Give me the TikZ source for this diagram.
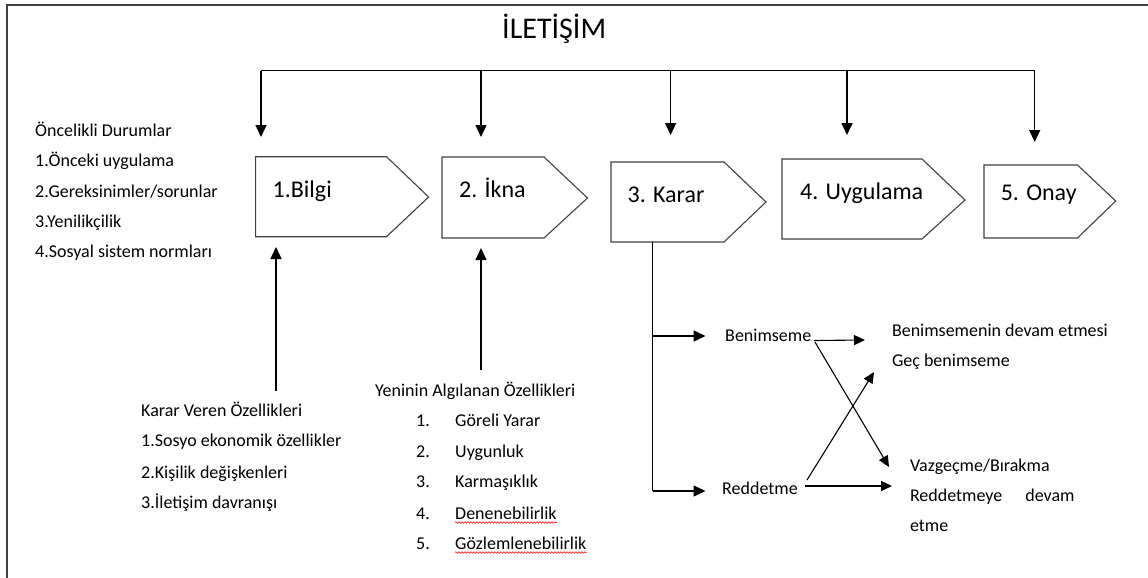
\documentclass[tikz,border=0pt]{standalone}
\usepackage{fontspec}
\setmainfont{Carlito}
\usetikzlibrary{arrows.meta,decorations.pathmorphing}
\begin{document}
\begin{tikzpicture}[x=1pt,y=-1pt,
  arr/.style={line width=1.4pt,-{Triangle[length=12pt,width=11pt]}},
  thinarr/.style={line width=1.1pt,-{Triangle[length=11pt,width=10pt]}},
  plain/.style={line width=1.4pt},
  box/.style={draw=black!75,line width=1.1pt},
  lbl/.style={anchor=base west,inner sep=0pt,font=\fontsize{24}{28}\selectfont},
  txt/.style={anchor=base west,inner sep=0pt,font=\fontsize{18}{21}\selectfont},
  wavy/.style={red,line width=0.6pt,decorate,decoration={snake,segment length=3pt,amplitude=0.8pt}}]
\useasboundingbox (0,0) rectangle (1148,578);
\clip (0,0) rectangle (1148,578);
% frame
\draw[black!75,line width=1.8pt] (7,5) rectangle (1200,650);
% title
\node[anchor=base west,inner sep=0pt,font=\fontsize{30}{34}\selectfont] (title) at (502,38.5) {İLETİŞİM};
% boxes
\draw[box] (255.6,156.7) -- (386.5,156.7) -- (428.6,197) -- (386.5,236.7) -- (255.6,236.7) -- cycle;
\draw[box] (442,157) -- (544,157) -- (587.5,198) -- (544,238) -- (442,238) -- cycle;
\draw[box] (611,162) -- (724,162) -- (766,202) -- (724,242) -- (611,242) -- cycle;
\draw[box] (782,159) -- (922,159) -- (965,200) -- (922,239) -- (782,239) -- cycle;
\draw[box] (984,165) -- (1077.5,165) -- (1115.7,201) -- (1077.5,238) -- (984,238) -- cycle;
\node[lbl] (b1) at (272.5,197) {1.Bilgi};
\node[lbl] (b2) at (459,197) {2. İkna};
\node[lbl] (b3) at (627.5,202) {3. Karar};
\node[lbl] (b4) at (800,199) {4. Uygulama};
\node[lbl] (b5) at (1000.6,200) {5. Onay};
% top distribution
\coordinate (tA) at (261,70.7);
\coordinate (tB) at (481,70.7);
\coordinate (tC) at (670.6,70.7);
\coordinate (tD) at (847,70.7);
\coordinate (tE) at (1034.7,70.7);
\coordinate (eA) at (261,137);
\coordinate (eB) at (481,137);
\coordinate (eC) at (670.6,135);
\coordinate (eD) at (847,135);
\coordinate (eE) at (1034.7,142);
\draw[plain] (tA) -- (tE);
\draw[arr] (tA) -- (eA);
\draw[arr] (tB) -- (eB);
\draw[arr] (tC) -- (eC);
\draw[arr] (tD) -- (eD);
\draw[arr] (tE) -- (eE);
% left list
\node[txt] (p0) at (35,136) {Öncelikli Durumlar};
\node[txt] (p1) at (35,166.5) {1.Önceki uygulama};
\node[txt] (p2) at (35,197) {2.Gereksinimler/sorunlar};
\node[txt] (p3) at (35,227) {3.Yenilikçilik};
\node[txt] (p4) at (35,257) {4.Sosyal sistem normları};
% up arrows
\coordinate (uA0) at (276,391);
\coordinate (uA1) at (276,247);
\coordinate (uB0) at (481,370);
\coordinate (uB1) at (481,248);
\draw[arr] (uA0) -- (uA1);
\draw[arr] (uB0) -- (uB1);
% decision maker list
\node[txt] (k0) at (141,416) {Karar Veren Özellikleri};
\node[txt] (k1) at (141,446) {1.Sosyo ekonomik özellikler};
\node[txt] (k2) at (141,478) {2.Kişilik değişkenleri};
\node[txt] (k3) at (141,508) {3.İletişim davranışı};
% perceived attributes
\node[txt] (y0) at (375,396) {Yeninin Algılanan Özellikleri};
\node[txt] (n1) at (416,426) {1.};
\node[txt] (n2) at (416,457) {2.};
\node[txt] (n3) at (416,487) {3.};
\node[txt] (n4) at (416,519) {4.};
\node[txt] (n5) at (416,549) {5.};
\node[txt] (y1) at (455,426) {Göreli Yarar};
\node[txt] (y2) at (455,457) {Uygunluk};
\node[txt] (y3) at (455,487) {Karmaşıklık};
\node[txt] (y4) at (455,519) {Denenebilirlik};
\node[txt] (y5) at (455,549) {Gözlemlenebilirlik};
\draw[wavy] (455,522.5) -- (y4.base east |- 0,522.5);
\draw[wavy] (455,552.5) -- (y5.base east |- 0,552.5);
% decision tree
\coordinate (kt) at (652.6,242);
\coordinate (kb) at (652.6,336);
\coordinate (kr) at (652.6,491);
\coordinate (kbe) at (705.5,336);
\coordinate (kre) at (705.5,491);
\draw[plain] (kt) -- (kr);
\draw[arr] (kb) -- (kbe);
\draw[arr] (kr) -- (kre);
\node[txt] (ben) at (725,341.7) {Benimseme};
\node[txt] (red) at (722,494) {Reddetme};
\node[txt] (o1) at (891.8,336) {Benimsemenin devam etmesi};
\node[txt] (o2) at (891.8,366) {Geç benimseme};
\node[txt] (o3) at (909.8,471) {Vazgeçme/Bırakma};
\node[txt] (o4) at (909.8,501) {Reddetmeye\hspace{23pt}devam};
\node[txt] (o5) at (909.8,531) {etme};
\coordinate (s1) at (814,340.5);
\coordinate (e1) at (865,340);
\coordinate (s2) at (815,342);
\coordinate (e2) at (889,467);
\coordinate (s3) at (807,480);
\coordinate (e3) at (874,372);
\coordinate (s4) at (805,486);
\coordinate (e4) at (892,486);
\draw[thinarr] (s1) -- (e1);
\draw[thinarr] (s2) -- (e2);
\draw[thinarr] (s3) -- (e3);
\draw[thinarr] (s4) -- (e4);
\end{tikzpicture}
\end{document}
